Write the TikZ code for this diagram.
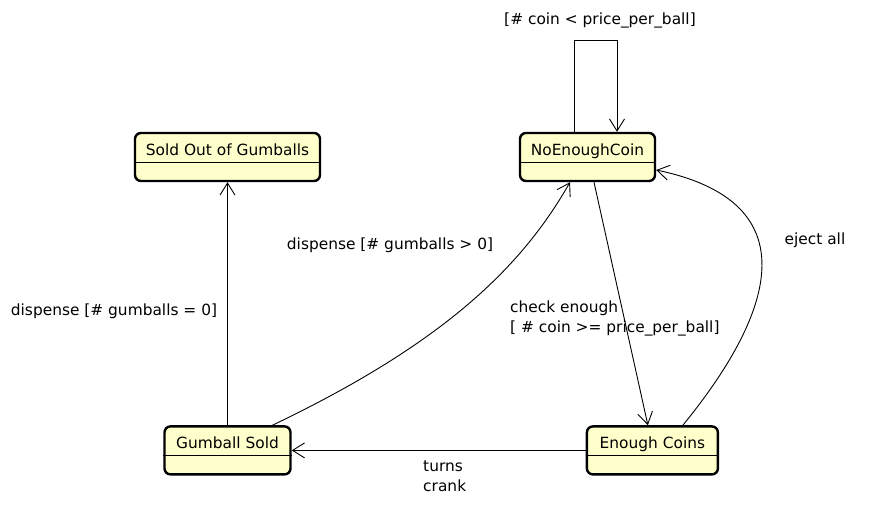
\documentclass[tikz,border=0pt]{standalone}
\usepackage{fontspec}
\setmainfont{DejaVu Sans}
\usetikzlibrary{positioning, arrows.meta}
\definecolor{statefill}{HTML}{FFFFCC}
\tikzset{
    >={Straight Barb[length=12pt,width=15pt]}, % open v heads
    every edge/.style={draw, ->, line width=0.9pt},
    state/.style={draw, line width=2.4pt, rounded corners=6pt, fill=statefill,
        text height=10pt, text depth=14pt, inner ysep=12pt, inner xsep=0pt,
        font=\fontsize{15.4}{18}\selectfont},
    guard/.style={font=\fontsize{15.4}{20}\selectfont, inner sep=0pt, align=left},
}
\begin{document}
\begin{tikzpicture}[x=1pt, y=-1pt]
    \useasboundingbox (0,0) rectangle (876,509);
    % states
    \node[state, minimum width=185pt] (SOLDOUT) at (227.5,157) {Sold Out of Gumballs};
    \node[state, minimum width=135pt] (NOCOIN) at (587.5,157) {NoEnoughCoin};
    \node[state, minimum width=126pt, below=243pt of SOLDOUT] (GUMBALL) {Gumball Sold};
    \node[state, minimum width=131pt, right=294pt of GUMBALL] (ENOUGH) {Enough Coins};

    % compartment lines
    \foreach \s in {SOLDOUT, NOCOIN, GUMBALL, ENOUGH}
        \draw[line width=1pt] ([yshift=-30.5pt]\s.north west) -- ([yshift=-30.5pt]\s.north east);

    % transitions
    \draw[->, line width=0.9pt] ([xshift=-13.5pt]NOCOIN.north) -- ++(0,-91)
        -- node[above=12pt, xshift=4.5pt, guard]{[\# coin < price\_per\_ball]} ++(43,0)
        -- ([xshift=29.5pt]NOCOIN.north);
    \draw   (GUMBALL) edge node[pos=.47, left=10pt, guard]{dispense [\# gumballs = 0]} (SOLDOUT)
            (ENOUGH) edge node[below=10pt, xshift=6pt, guard]{turns\\crank} (GUMBALL)
            ([xshift=6.5pt]NOCOIN.south) edge ([xshift=-4.5pt]ENOUGH.north);
    \draw[->, line width=0.9pt] ([xshift=45pt]GUMBALL.north)
        .. controls (440,345) and (520,270) .. ([xshift=-17.5pt]NOCOIN.south);
    \draw[->, line width=0.9pt] ([xshift=30.5pt]ENOUGH.north)
        .. controls (785,300) and (800,200) .. ([yshift=-13pt]NOCOIN.east);

    % guards without a straight edge
    \node[guard] (DISPLBL) at (390,245) {dispense [\# gumballs > 0]};
    \node[guard, anchor=west] (CHECKLBL) at (510,318) {check enough\\{[} \# coin >= price\_per\_ball]};
    \node[guard] (EJECTLBL) at (815,240) {eject all};
\end{tikzpicture}
\end{document}
